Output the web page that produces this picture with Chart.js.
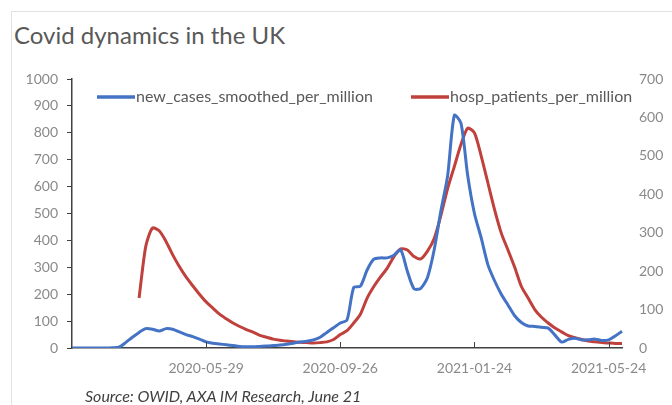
<!DOCTYPE html>
<html>
<head>
<meta charset="utf-8">
<script src="https://cdn.jsdelivr.net/npm/chart.js@4.4.1/dist/chart.umd.min.js"></script>
<style>
  body { margin:0; background:#fff; }
  #wrap { position:relative; width:672px; height:405px; overflow:hidden; }
  #frame { position:absolute; left:11px; top:11px; width:700px; height:420px;
           border-top:1px solid #e2e2e2; border-left:1px solid #e2e2e2; }
  #title { position:absolute; left:14px; top:20px; font:24px Lato, sans-serif; color:#595959; white-space:nowrap; }
  #source { position:absolute; left:85px; top:386px; font:italic 16px Lato, sans-serif; color:#404040; white-space:nowrap; }
  canvas { position:absolute; left:0; top:0; }
</style>
</head>
<body>
<div id="wrap">
  <div id="frame"></div>
  <div id="title">Covid dynamics in the UK</div>
  <canvas id="chart" width="672" height="405"></canvas>
  <div id="source">Source: OWID, AXA IM Research, June 21</div>
</div>
<script>

// every 6th day from 2020-01-30 (labels shown every 120 days)
const startDate = '2020-01-30'
const stepDays  = 6
const labelEvery = 20

const newCasesPerMillion = [
   0,   0,   0,   0,   0,   0,   1,   3,  20,  40,
  58,  72,  70,  63,  72,  70,  60,  50,  42,  33,
  23,  18,  15,  12,   9,   6,   5,   5,   6,   7,
   9,  11,  14,  18,  22,  25,  30,  40,  58,  75,
  93, 104, 225, 230, 290, 330, 335, 335, 345, 365,
 285, 220, 222, 262, 365, 510, 640, 865, 835, 640,
 500, 410, 310, 250, 200, 160, 120,  95,  82,  80,
  77,  74,  48,  22,  32,  36,  30,  31,  33,  28,
  30,  45,  62
]

const hospPatientsPerMillion = [
  null, null, null, null, null, null, null, null, null, null,
  130, 265, 312, 305, 278, 243, 212, 185, 162, 140,
  120, 104,  88,  76,  65,  56,  48,  41,  33,  28,
   23,  20,  18,  16,  15,  14,  13,  14,  16,  22,
   35,  45,  65,  88, 130, 160, 185, 208, 238, 258,
  255, 238, 232, 252, 285, 345, 415, 472, 530, 572,
  560, 500, 430, 360, 299, 255, 210, 160, 130, 100,
   80,  65,  52,  42,  32,  27,  22,  18,  16,  14,
   13,  12,  12
]

const seriesNames = ['new_cases_smoothed_per_million', 'hosp_patients_per_million']
const seriesColors = ['#4472C4', '#C0403C']

const leftMax = 1000
const rightMax = 700

const dates = []
for (let i = 0; i < newCasesPerMillion.length; i++) {
      const d = new Date(startDate + 'T00:00:00Z')
      d.setUTCDate(d.getUTCDate() + i * stepDays)
      dates.push(d.toISOString().slice(0, 10))
}

const axisColor = '#404040'
const tickColor = '#8a8a8a'
const tickFont = { family: 'Lato', size: 14 }

// legend drawn inside the plot, and x tick marks pointing up
const insideBits = {
      id: 'insideBits',
      afterDraw(chart) {
            const ctx = chart.ctx
            const xs = chart.scales.x
            const bottom = chart.chartArea.bottom
            ctx.save()
            ctx.strokeStyle = axisColor
            ctx.lineWidth = 1
            for (let i = labelEvery; i < dates.length; i += labelEvery) {
                  const px = Math.round(xs.getPixelForValue(i)) + 0.5
                  ctx.beginPath(); ctx.moveTo(px, bottom); ctx.lineTo(px, bottom - 6); ctx.stroke()
            }
            const items = [{ x: 97, w: 38 }, { x: 411, w: 38 }]
            ctx.font = '16px Lato'
            ctx.textBaseline = 'middle'
            ctx.fillStyle = '#595959'
            chart.data.datasets.forEach((ds, k) => {
                  const it = items[k]
                  ctx.strokeStyle = ds.borderColor
                  ctx.lineWidth = 3.5
                  ctx.beginPath(); ctx.moveTo(it.x, 97); ctx.lineTo(it.x + it.w, 97); ctx.stroke()
                  ctx.fillText(ds.label, it.x + it.w + 1, 97)
            })
            ctx.restore()
      }
}

const setup = {
      type: 'line',
      data: {
            labels: dates,
            datasets: [
                  { label: seriesNames[0], data: newCasesPerMillion, yAxisID: 'yL',
                    borderColor: seriesColors[0], borderWidth: 3, pointRadius: 0, tension: 0.25 },
                  { label: seriesNames[1], data: hospPatientsPerMillion, yAxisID: 'yR',
                    borderColor: seriesColors[1], borderWidth: 3, pointRadius: 0, tension: 0.25 }
            ]
      },
      options: {
            responsive: false,
            animation: false,
            layout: { padding: { top: 79, bottom: 27, left: 0, right: 0 } },
            plugins: { legend: { display: false }, tooltip: { enabled: false } },
            scales: {
                  x: {
                        grid: { display: false, drawTicks: false },
                        border: { display: true, color: axisColor, width: 1.5 },
                        ticks: {
                              autoSkip: false, maxRotation: 0, padding: 12,
                              color: tickColor, font: tickFont,
                              callback: (v, i) => (i > 0 && i % labelEvery === 0) ? dates[i] : ''
                        },
                        afterFit: (s) => { s.height = 30 }
                  },
                  yL: {
                        position: 'left', min: 0, max: leftMax,
                        grid: { drawOnChartArea: false, drawTicks: true, tickLength: 5, color: axisColor },
                        border: { display: true, color: axisColor, width: 1.5 },
                        ticks: { stepSize: 100, padding: 9, color: tickColor, font: tickFont,
                                 callback: (v) => String(v) },
                        afterFit: (s) => { s.width = 72 }
                  },
                  yR: {
                        position: 'right', min: 0, max: rightMax,
                        grid: { display: false, drawTicks: false },
                        border: { display: false },
                        ticks: { stepSize: 100, padding: 17, color: tickColor, font: tickFont,
                                 callback: (v) => String(v) },
                        afterFit: (s) => { s.width = 50 }
                  }
            }
      },
      plugins: [insideBits]
}

new Chart(document.getElementById('chart'), setup)
</script>
</body>
</html>
